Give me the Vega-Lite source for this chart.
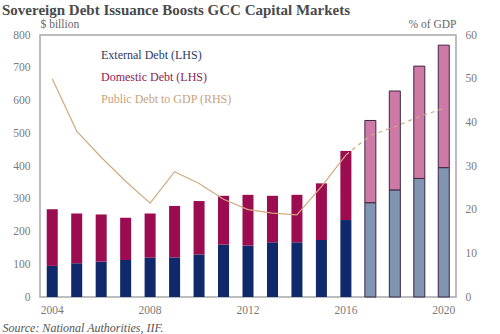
{
  "$schema": "https://vega.github.io/schema/vega-lite/v6.json",
  "autosize": {"type": "none"},
  "width": 416,
  "height": 262,
  "padding": {"left": 40, "top": 35, "right": 44, "bottom": 37},
  "background": "white",
  "title": {
    "text": "Sovereign Debt Issuance Boosts GCC Capital Markets",
    "anchor": "start",
    "frame": "group",
    "dx": -38,
    "dy": 4,
    "font": "Liberation Serif",
    "fontSize": 15,
    "fontWeight": "bold",
    "color": "#4a4a4a",
    "offset": 4
  },
  "config": {
    "view": {"stroke": "#a8a8a8", "strokeWidth": 1.5},
    "axis": {
      "labelFont": "Liberation Serif",
      "labelFontSize": 11.5,
      "labelColor": "#7a7a7a",
      "titleFont": "Liberation Serif",
      "titleFontWeight": "normal",
      "titleFontSize": 11.5,
      "titleColor": "#666666",
      "grid": false,
      "ticks": false,
      "domain": false
    }
  },
  "data": {
    "values": [
      {"year": 2004, "external": 95, "domestic": 173, "gdp": 50},
      {"year": 2005, "external": 103, "domestic": 152, "gdp": 38},
      {"year": 2006, "external": 108, "domestic": 144, "gdp": 32},
      {"year": 2007, "external": 113, "domestic": 129, "gdp": 26.5},
      {"year": 2008, "external": 120, "domestic": 135, "gdp": 21.5},
      {"year": 2009, "external": 121, "domestic": 157, "gdp": 28.7},
      {"year": 2010, "external": 130, "domestic": 163, "gdp": 26},
      {"year": 2011, "external": 160, "domestic": 149, "gdp": 22.4},
      {"year": 2012, "external": 157, "domestic": 155, "gdp": 20},
      {"year": 2013, "external": 167, "domestic": 142, "gdp": 19.2},
      {"year": 2014, "external": 167, "domestic": 145, "gdp": 18.8},
      {"year": 2015, "external": 174, "domestic": 173, "gdp": 25.3},
      {"year": 2016, "external": 235, "domestic": 211, "gdp": 32.5},
      {"year": 2017, "external": 288, "domestic": 251, "gdp": 37},
      {"year": 2018, "external": 327, "domestic": 302, "gdp": 39},
      {"year": 2019, "external": 362, "domestic": 343, "gdp": 41.3},
      {"year": 2020, "external": 395, "domestic": 374, "gdp": 43.2}
    ]
  },
  "encoding": {
    "x": {
      "field": "year",
      "type": "ordinal",
      "scale": {"paddingInner": 0.55, "paddingOuter": 0.275},
      "axis": {
        "values": [2004, 2008, 2012, 2016, 2020],
        "labelAngle": 0,
        "labelPadding": 7,
        "title": "Source: National Authorities, IIF.",
        "titleFontStyle": "italic",
        "titleFontSize": 12,
        "titleColor": "#555555",
        "titleAnchor": "start",
        "titleAlign": "left",
        "titleBaseline": "middle",
        "titleX": -38,
        "titleY": 30
      }
    }
  },
  "layer": [
    {
      "transform": [
        {"fold": ["external", "domestic"], "as": ["key", "value"]},
        {"calculate": "datum.key == 'external' ? (datum.year > 2016 ? 'External forecast' : 'External Debt (LHS)') : (datum.year > 2016 ? 'Domestic forecast' : 'Domestic Debt (LHS)')", "as": "series"},
        {"calculate": "datum.key == 'external' ? 0 : 1", "as": "ord"}
      ],
      "mark": {"type": "bar", "stroke": "#3a2844", "strokeWidth": 1},
      "encoding": {
        "y": {
          "field": "value",
          "type": "quantitative",
          "stack": "zero",
          "scale": {"domain": [0, 800], "nice": false},
          "axis": {
            "values": [0, 100, 200, 300, 400, 500, 600, 700, 800],
            "labelPadding": 10,
            "title": "$ billion",
            "titleAngle": 0,
            "titleX": 0,
            "titleY": -6,
            "titleAlign": "left",
            "titleBaseline": "bottom"
          }
        },
        "order": {"field": "ord", "type": "quantitative"},
        "color": {
          "field": "series",
          "type": "nominal",
          "scale": {
            "domain": ["External Debt (LHS)", "Domestic Debt (LHS)", "Public Debt to GDP (RHS)", "External forecast", "Domestic forecast"],
            "range": ["#10296b", "#9b0d50", "#d2aa80", "#8194b1", "#cf7aa6"]
          },
          "legend": {
            "values": ["External Debt (LHS)", "Domestic Debt (LHS)", "Public Debt to GDP (RHS)"],
            "orient": "none",
            "legendX": 49,
            "legendY": 14,
            "title": null,
            "padding": 0,
            "symbolSize": 0,
            "symbolOpacity": 0,
            "symbolStrokeWidth": 0,
            "labelOffset": 0,
            "labelFont": "Liberation Serif",
            "labelFontSize": 12,
            "rowPadding": 10,
            "labelColor": {"expr": "datum.value == 'External Debt (LHS)' ? '#2c3b62' : datum.value == 'Domestic Debt (LHS)' ? '#8c1c55' : '#c9a27c'"}
          }
        },
        "strokeOpacity": {
          "condition": {"test": "datum.year > 2016", "value": 1},
          "value": 0
        }
      }
    },
    {
      "layer": [
        {
          "transform": [{"filter": "datum.year <= 2016"}],
          "mark": {"type": "line", "strokeWidth": 1.2},
          "encoding": {}
        },
        {
          "transform": [{"filter": "datum.year >= 2016"}],
          "mark": {"type": "line", "strokeWidth": 1.2, "strokeDash": [4, 4]},
          "encoding": {}
        }
      ],
      "encoding": {
        "y": {
          "field": "gdp",
          "type": "quantitative",
          "scale": {"domain": [0, 60], "nice": false},
          "axis": {
            "orient": "right",
            "values": [0, 10, 20, 30, 40, 50, 60],
            "labelPadding": 9,
            "title": "% of GDP",
            "titleAngle": 0,
            "titleX": 0,
            "titleY": -6,
            "titleAlign": "right",
            "titleBaseline": "bottom"
          }
        },
        "color": {"datum": "Public Debt to GDP (RHS)", "type": "nominal"}
      }
    }
  ],
  "resolve": {"scale": {"y": "independent"}}
}
